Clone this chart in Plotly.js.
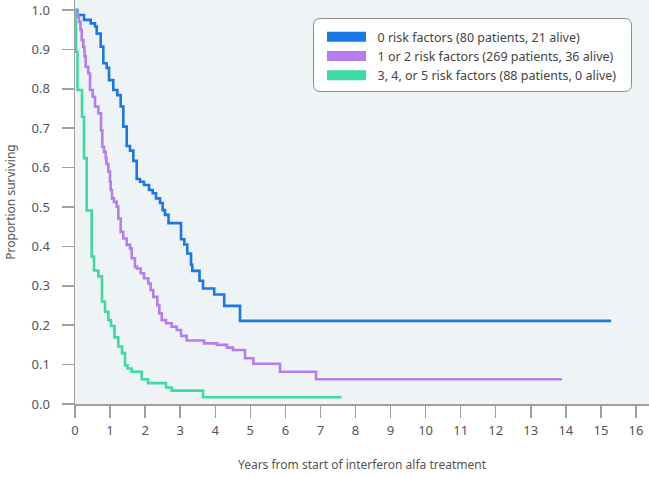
<!DOCTYPE html>
<html>
<head>
<meta charset="utf-8">
<script src="https://cdn.plot.ly/plotly-3.0.1.min.js"></script>
<style>html,body{margin:0;padding:0;background:#fff;}#chart{width:649px;height:477px;}</style>
</head>
<body>
<div id="chart"></div>
<script>
// Series names
const seriesNames = [
  "0 risk factors (80 patients, 21 alive)",
  "1 or 2 risk factors (269 patients, 36 alive)",
  "3, 4, or 5 risk factors (88 patients, 0 alive)"
];
// 0 risk factors
const blueT = [0, 0.066, 0.257, 0.448, 0.570, 0.619, 0.733, 0.807, 0.904, 0.970, 1.092, 1.207, 1.303, 1.378, 1.475, 1.569, 1.663, 1.760, 1.854, 1.968, 2.111, 2.216, 2.310, 2.424, 2.501, 2.567, 2.667, 3.023, 3.118, 3.203, 3.309, 3.346, 3.551, 3.651, 3.970, 4.256, 4.706, 15.29];
const blueS = [1.0, 0.9875, 0.975, 0.966, 0.958, 0.94, 0.907, 0.865, 0.853, 0.822, 0.797, 0.784, 0.755, 0.704, 0.655, 0.643, 0.617, 0.571, 0.564, 0.556, 0.543, 0.535, 0.522, 0.510, 0.492, 0.480, 0.459, 0.418, 0.405, 0.382, 0.353, 0.338, 0.313, 0.293, 0.278, 0.249, 0.211, 0.211];
// 1 or 2 risk factors
const purpleT = [0, 0.043, 0.086, 0.114, 0.157, 0.191, 0.237, 0.271, 0.305, 0.379, 0.428, 0.505, 0.570, 0.665, 0.742, 0.779, 0.827, 0.876, 0.898, 0.950, 0.998, 1.018, 1.055, 1.112, 1.189, 1.235, 1.303, 1.378, 1.475, 1.569, 1.617, 1.711, 1.768, 1.874, 1.968, 2.091, 2.159, 2.233, 2.347, 2.404, 2.473, 2.596, 2.758, 2.901, 3.023, 3.186, 3.679, 4.050, 4.335, 4.507, 4.849, 5.086, 5.847, 6.874, 13.89];
const purpleS = [1.0, 0.99, 0.982, 0.97, 0.95, 0.924, 0.906, 0.883, 0.856, 0.839, 0.797, 0.780, 0.755, 0.738, 0.695, 0.653, 0.640, 0.624, 0.609, 0.590, 0.564, 0.543, 0.522, 0.513, 0.501, 0.471, 0.437, 0.420, 0.404, 0.395, 0.370, 0.348, 0.344, 0.332, 0.319, 0.306, 0.289, 0.272, 0.251, 0.230, 0.213, 0.205, 0.196, 0.188, 0.173, 0.161, 0.154, 0.150, 0.143, 0.137, 0.116, 0.102, 0.082, 0.063, 0.063];
// 3, 4, or 5 risk factors
const greenT = [0, 0.014, 0.029, 0.071, 0.200, 0.257, 0.334, 0.476, 0.542, 0.665, 0.770, 0.856, 0.950, 1.027, 1.127, 1.235, 1.341, 1.426, 1.497, 1.617, 1.902, 2.082, 2.596, 2.758, 3.651, 7.601];
const greenS = [1.0, 0.97, 0.894, 0.797, 0.729, 0.624, 0.491, 0.374, 0.339, 0.324, 0.260, 0.234, 0.213, 0.198, 0.169, 0.146, 0.129, 0.098, 0.090, 0.082, 0.063, 0.053, 0.042, 0.034, 0.017, 0.017];

const xTickVals = [0,1,2,3,4,5,6,7,8,9,10,11,12,13,14,15,16];
const yTickVals = [0,0.1,0.2,0.3,0.4,0.5,0.6,0.7,0.8,0.9,1.0];

const colors = ["#1a78e6", "#b67cf2", "#3ddba2"];
const xs = [blueT, purpleT, greenT];
const ys = [blueS, purpleS, greenS];

const traces = [];
for (let i = 0; i < 3; i++) {
  traces.push({x: xs[i], y: ys[i], type: "scatter", mode: "lines",
    line: {shape: "hv", color: colors[i], width: 2.6}, showlegend: false, hoverinfo: "skip"});
}
for (let i = 0; i < 3; i++) {
  traces.push({x: [null], y: [null], type: "scatter", mode: "lines",
    name: "\u00a0\u00a0" + seriesNames[i], line: {color: colors[i], width: 10}, showlegend: true});
}

// legend frame (rounded) in paper coords from pixel geometry
const L = 75, R = 649, T = 0, B = 404, W = R - L, H = B - T;
function px(x){return (x - L) / W;}
function py(y){return (B - y) / H;}
const bx0 = 313.5, bx1 = 631.5, by0 = 18.5, by1 = 91.5, rr = 7;
const path = "M" + px(bx0 + rr) + "," + py(by0) +
  " L" + px(bx1 - rr) + "," + py(by0) +
  " Q" + px(bx1) + "," + py(by0) + " " + px(bx1) + "," + py(by0 + rr) +
  " L" + px(bx1) + "," + py(by1 - rr) +
  " Q" + px(bx1) + "," + py(by1) + " " + px(bx1 - rr) + "," + py(by1) +
  " L" + px(bx0 + rr) + "," + py(by1) +
  " Q" + px(bx0) + "," + py(by1) + " " + px(bx0) + "," + py(by1 - rr) +
  " L" + px(bx0) + "," + py(by0 + rr) +
  " Q" + px(bx0) + "," + py(by0) + " " + px(bx0 + rr) + "," + py(by0) + " Z";

const font = "Noto Sans, Open Sans, sans-serif";
const layout = {
  width: 649, height: 477,
  margin: {l: 75, r: 0, t: 0, b: 73, pad: 0},
  paper_bgcolor: "#ffffff",
  plot_bgcolor: "#eef3f5",
  font: {family: font, size: 12, color: "#555555"},
  xaxis: {
    range: [0, 16.371], tickvals: xTickVals, ticktext: xTickVals.map(String),
    showgrid: false, zeroline: false, showline: true, linecolor: "#a0a0a0", linewidth: 1.5,
    ticks: "outside", ticklen: 12, tickcolor: "#a0a0a0", tickwidth: 1.5,
    ticklabelstandoff: 2,
    tickfont: {family: font, size: 13, color: "#555555"},
    title: {text: "Years from start of interferon alfa treatment", font: {family: font, size: 12, color: "#555555"}, standoff: 22}
  },
  yaxis: {
    range: [0, 1.0254], tickvals: yTickVals, ticktext: yTickVals.map(v => v.toFixed(1)),
    showgrid: false, zeroline: false, showline: true, linecolor: "#a0a0a0", linewidth: 1.5,
    ticks: "outside", ticklen: 12, tickcolor: "#a0a0a0", tickwidth: 1.5,
    ticklabelstandoff: 9,
    tickfont: {family: font, size: 13, color: "#555555"},
    title: {text: "Proportion surviving", font: {family: font, size: 12, color: "#555555"}, standoff: 13}
  },
  legend: {
    x: px(322), y: py(22), xanchor: "left", yanchor: "top",
    bgcolor: "rgba(0,0,0,0)", borderwidth: 0, itemwidth: 39,
    font: {family: font, size: 12.5, color: "#444444"}, tracegroupgap: 0
  },
  shapes: [{type: "path", xref: "paper", yref: "paper", path: path,
    fillcolor: "#ffffff", line: {color: "#8a8a8a", width: 1}, layer: "above"}]
};

Plotly.newPlot("chart", traces, layout, {displayModeBar: false, staticPlot: true});
</script>
</body>
</html>
